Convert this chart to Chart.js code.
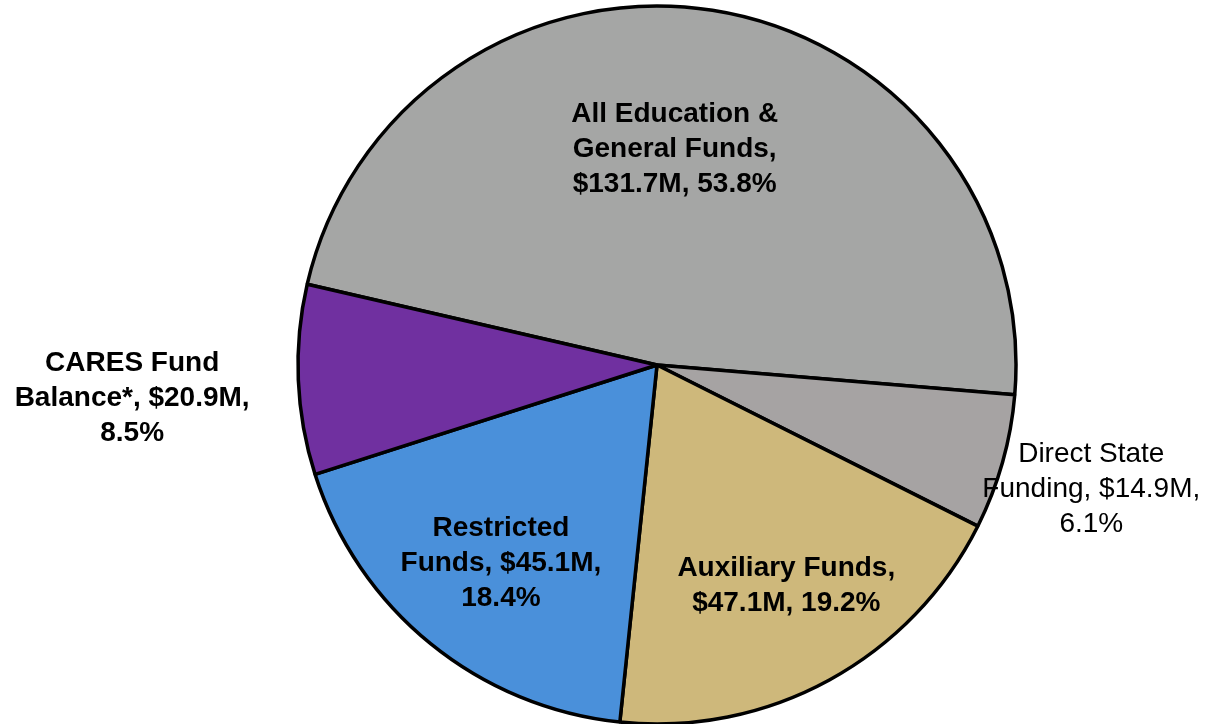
<!DOCTYPE html>
<html>
<head>
<meta charset="utf-8">
<title>Fund Balances</title>
<script src="https://cdn.jsdelivr.net/npm/chart.js@4/dist/chart.umd.min.js"></script>
<style>
  html, body { margin: 0; padding: 0; background: #ffffff; }
  #wrap { width: 1209px; height: 724px; position: relative; }
</style>
</head>
<body>
<div id="wrap"><canvas id="pie"></canvas></div>
<script>
// Fund categories and balances ($ millions)
const categories = [
  'All Education & General Funds',
  'Direct State Funding',
  'Auxiliary Funds',
  'Restricted Funds',
  'CARES Fund Balance*'
];
const amounts = [131.7, 14.9, 47.1, 45.1, 20.9];

// Direct State Funding is part of All E&G, so its wedge is carved out of that slice
const sliceValues = amounts.map((v, i) => (i === 0 ? v - amounts[1] : v));
const total = sliceValues.reduce((a, b) => a + b, 0);
const percents = amounts.map(v => (v / total) * 100);

const sliceColors = ['#A5A6A5', '#A6A3A3', '#CEB87B', '#4A90DA', '#7030A0'];

// label styling: weight, wrap width, distance from centre (x radius), angular nudge (deg)
const labelStyle = [
  { weight: 'bold',   wrap: 222, dist: 0.603, shift: -4.2 },
  { weight: 'normal', wrap: 232, dist: 1.258, shift: 0.2 },
  { weight: 'bold',   wrap: 225, dist: 0.712, shift: -1.7 },
  { weight: 'bold',   wrap: 210, dist: 0.703, shift: -0.9 },
  { weight: 'bold',   wrap: 250, dist: 1.465, shift: -1.3 }
];

function labelText(i) {
  return categories[i] + ', $' + amounts[i].toFixed(1) + 'M, ' + percents[i].toFixed(1) + '%';
}

function wrapWords(ctx, text, maxWidth) {
  const words = text.split(' ');
  const lines = [];
  let line = '';
  words.forEach(w => {
    const test = line ? line + ' ' + w : w;
    if (line && ctx.measureText(test).width > maxWidth) {
      lines.push(line);
      line = w;
    } else {
      line = test;
    }
  });
  if (line) lines.push(line);
  return lines;
}

const sliceLabels = {
  id: 'sliceLabels',
  afterDatasetsDraw(chart) {
    const ctx = chart.ctx;
    const meta = chart.getDatasetMeta(0);
    const fontSize = 28;
    const lineHeight = 35;
    ctx.save();
    ctx.fillStyle = '#000000';
    ctx.textAlign = 'center';
    ctx.textBaseline = 'middle';
    meta.data.forEach((arc, i) => {
      const st = labelStyle[i];
      const p = arc.getProps(['x', 'y', 'startAngle', 'endAngle', 'outerRadius'], true);
      const mid = (p.startAngle + p.endAngle) / 2 + st.shift * Math.PI / 180;
      const cx = p.x + Math.cos(mid) * p.outerRadius * st.dist;
      const cy = p.y + Math.sin(mid) * p.outerRadius * st.dist;
      ctx.font = st.weight + ' ' + fontSize + 'px "Liberation Sans", Arial, sans-serif';
      const lines = wrapWords(ctx, labelText(i), st.wrap);
      const top = cy - (lines.length - 1) * lineHeight / 2;
      lines.forEach((ln, k) => ctx.fillText(ln, cx, top + k * lineHeight));
    });
    ctx.restore();
  }
};

new Chart(document.getElementById('pie'), {
  type: 'pie',
  data: {
    labels: categories,
    datasets: [{
      data: sliceValues,
      backgroundColor: sliceColors,
      borderColor: '#000000',
      borderWidth: 3.5
    }]
  },
  options: {
    responsive: true,
    maintainAspectRatio: false,
    animation: false,
    rotation: -77,
    radius: 359,
    layout: { padding: { left: 105, top: 6 } },
    plugins: {
      legend: { display: false },
      tooltip: { enabled: false }
    }
  },
  plugins: [sliceLabels]
});
</script>
</body>
</html>
